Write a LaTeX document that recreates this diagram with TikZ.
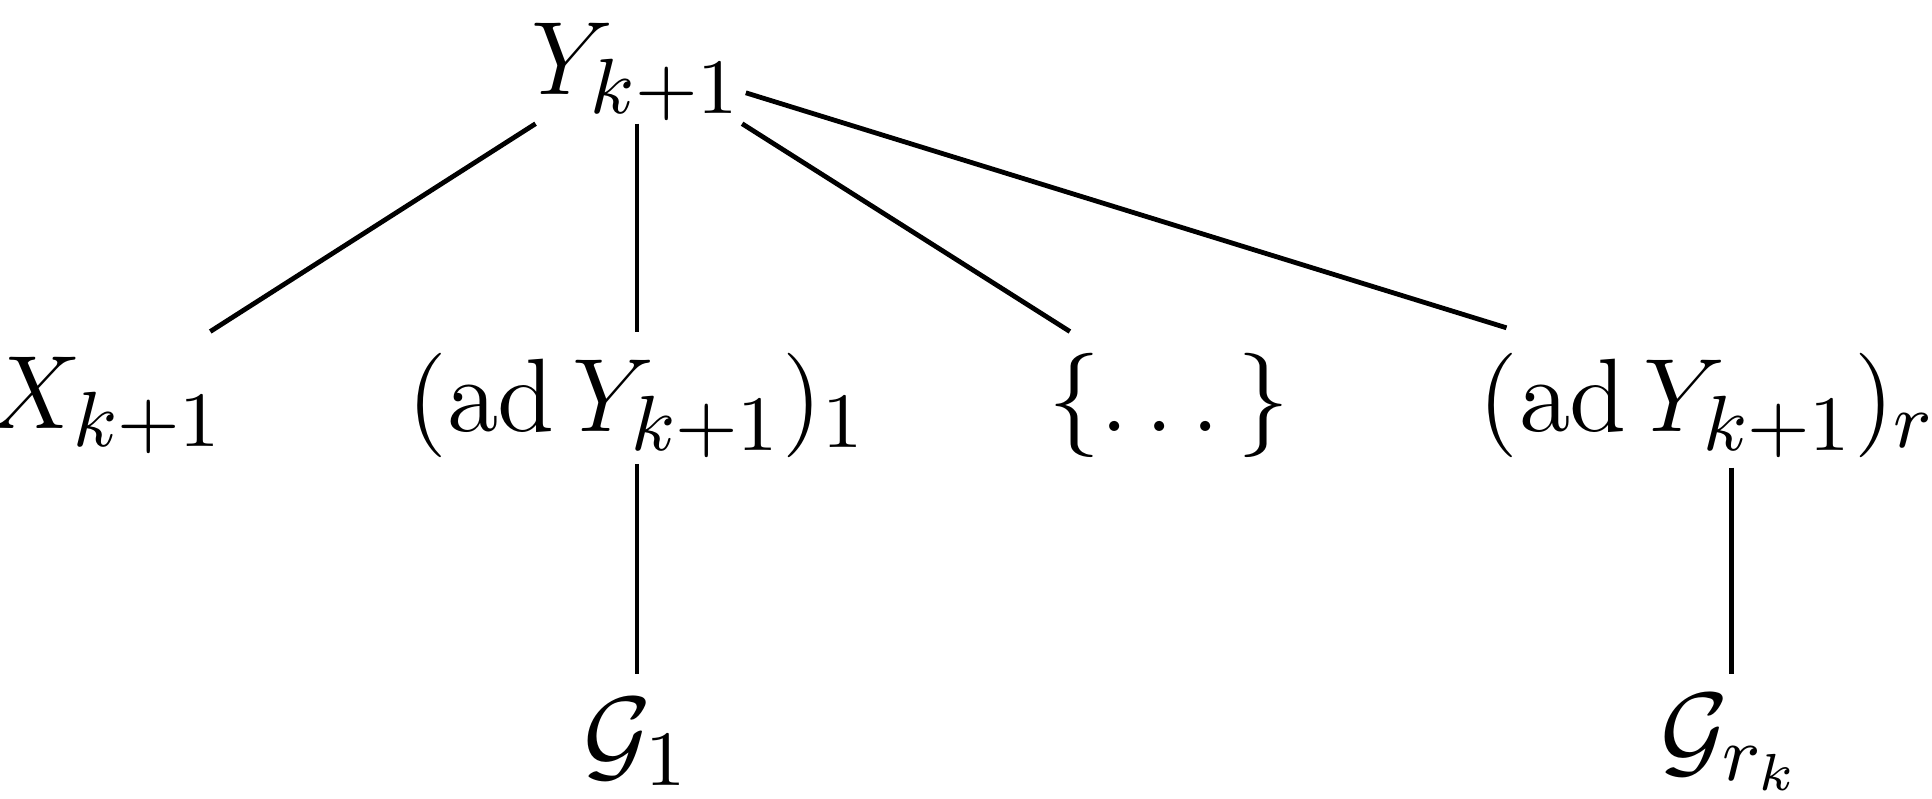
\documentclass[tikz,border=0pt]{standalone}
\usepackage{amsmath}
\begin{document}
\begin{tikzpicture}[every node/.style={font=\fontsize{12.5}{15}\selectfont, inner sep=2pt}, edge/.style={line width=0.55pt}]
\useasboundingbox (0,0) rectangle (7.81,-3.226);
\node (Y) at (2.575,-0.29) {$Y_{k+1}$};
\node (X) at (0.43,-1.64) {$X_{k+1}$};
\node (A1) at (2.575,-1.64) {$(\operatorname{ad} Y_{k+1})_1$};
\node (D) at (4.725,-1.64) {$\{\dots\}$};
\node (Ar) at (6.98,-1.64) {$(\operatorname{ad} Y_{k+1})_{r_k}$};
\node (G1) at (2.575,-3.0) {$\mathcal{G}_1$};
\node (Gr) at (7.0,-3.0) {$\mathcal{G}_{r_k}$};
\coordinate (y1) at (2.165,-0.5); \coordinate (x1) at (0.85,-1.34);
\coordinate (y2) at (2.575,-0.5); \coordinate (a1t) at (2.575,-1.34);
\coordinate (y3) at (3.0,-0.5); \coordinate (dt) at (4.325,-1.34);
\coordinate (y4) at (3.015,-0.375); \coordinate (art) at (6.09,-1.325);
\coordinate (a1b) at (2.575,-1.875); \coordinate (g1t) at (2.575,-2.725);
\coordinate (arb) at (7.0,-1.89); \coordinate (grt) at (7.0,-2.725);
\draw[edge] (y1) -- (x1);
\draw[edge] (y2) -- (a1t);
\draw[edge] (y3) -- (dt);
\draw[edge] (y4) -- (art);
\draw[edge] (a1b) -- (g1t);
\draw[edge] (arb) -- (grt);
\end{tikzpicture}
\end{document}
